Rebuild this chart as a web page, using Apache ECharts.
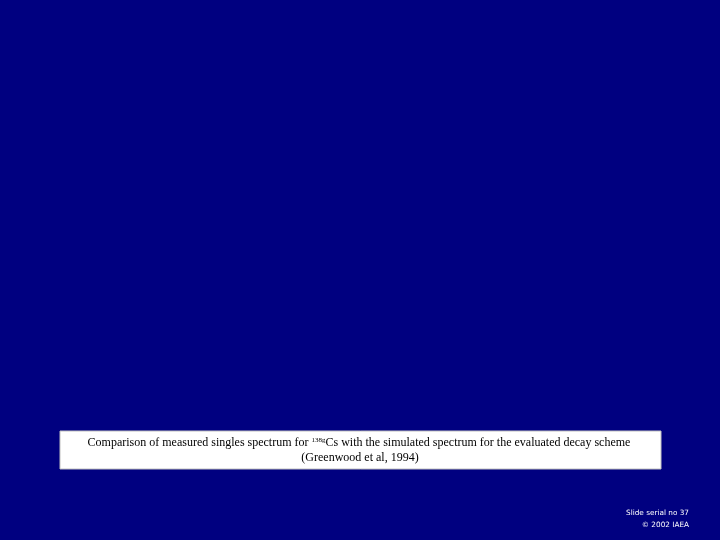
<!DOCTYPE html>
<html>
<head>
<meta charset="utf-8">
<script src="https://cdn.jsdelivr.net/npm/echarts@6/dist/echarts.min.js"></script>
<style>
html,body{margin:0;padding:0;background:#000080;}
#c{width:720px;height:540px;}
</style>
</head>
<body>
<div id="c"></div>
<script>
const captionLine1 = ['Comparison of measured singles spectrum for ', '138g', 'Cs with the simulated spectrum for the evaluated decay scheme'];
const captionLine2 = '(Greenwood et al, 1994)';
const footerLines = ['Slide serial no 37', '\u00A9 2002 IAEA'];

const chart = echarts.init(document.getElementById('c'), null, {renderer: 'canvas'});
chart.setOption({
  backgroundColor: '#000080',
  animation: false,
  graphic: [
    {
      type: 'rect',
      shape: {x: 60, y: 431, width: 601, height: 38},
      style: {fill: '#ffffff', stroke: '#c0c0c0', lineWidth: 1}
    },
    {
      type: 'text',
      x: 359, y: 443,
      style: {
        text: '{a|' + captionLine1[0] + '}{s|' + captionLine1[1] + '}{a|' + captionLine1[2] + '}',
        align: 'center', verticalAlign: 'middle',
        rich: {
          a: {fontFamily: 'Liberation Serif', fontSize: 12, fill: '#000000'},
          s: {fontFamily: 'Liberation Serif', fontSize: 7, fill: '#000000', verticalAlign: 'top', padding: [0, 0, 5, 0]}
        }
      }
    },
    {
      type: 'text',
      x: 360, y: 458,
      style: {
        text: captionLine2,
        align: 'center', verticalAlign: 'middle',
        fontFamily: 'Liberation Serif', fontSize: 12, fill: '#000000'
      }
    },
    {
      type: 'text',
      x: 689, y: 513,
      style: {
        text: footerLines[0], align: 'right', verticalAlign: 'middle',
        fontFamily: 'DejaVu Sans', fontSize: 7.3, fill: '#ffffff'
      }
    },
    {
      type: 'text',
      x: 689, y: 525,
      style: {
        text: footerLines[1], align: 'right', verticalAlign: 'middle',
        fontFamily: 'DejaVu Sans', fontSize: 7.3, fill: '#ffffff'
      }
    }
  ]
});
</script>
</body>
</html>
